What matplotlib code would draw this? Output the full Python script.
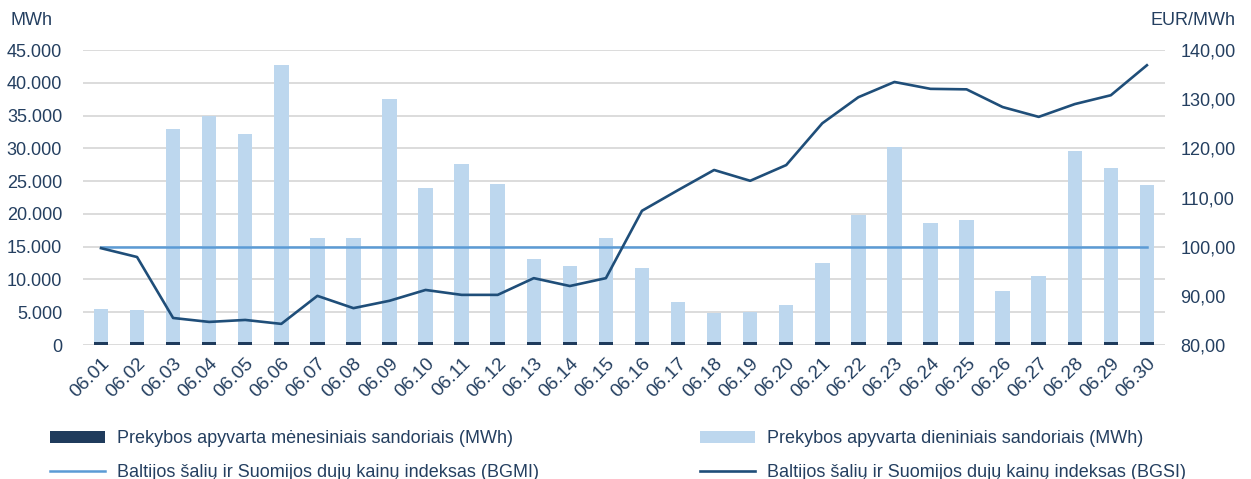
import matplotlib
matplotlib.use('Agg')
import numpy as np
import matplotlib.pyplot as plt
from matplotlib.ticker import FuncFormatter

plt.rcParams['font.family'] = ['Liberation Sans', 'DejaVu Sans']

days = ["06.%02d" % d for d in range(1, 31)]
monthly = [450] * 30
daily = [5500, 5300, 33000, 34900, 32200, 42700, 16300, 16300, 37500, 23900,
         27600, 24600, 13100, 12000, 16300, 11800, 6600, 4900, 5000, 6100,
         12500, 19800, 30200, 18600, 19100, 8200, 10500, 29600, 27000, 24400]
bgmi = [99.9] * 30
bgsi = [99.7, 97.9, 85.5, 84.7, 85.1, 84.3, 90.0, 87.5, 89.0, 91.2,
        90.2, 90.2, 93.6, 92.0, 93.6, 107.3, 111.5, 115.6, 113.4, 116.6,
        125.1, 130.4, 133.5, 132.1, 132.0, 128.4, 126.4, 129.0, 130.8, 136.9]

TXT = "#243F60"
x = np.arange(len(days))

fig = plt.figure(figsize=(12.51, 4.79), dpi=100)
ax = fig.add_axes([0.0663, 0.2797, 0.8649, 0.6159])
ax2 = ax.twinx()

# daily volume sits on top of the small monthly volume
daily_top = [d - m for d, m in zip(daily, monthly)]
b1 = ax.bar(x, monthly, width=0.4, color="#1F3B5C", zorder=3)
b2 = ax.bar(x, daily_top, bottom=monthly, width=0.4, color="#BDD7EE", zorder=3)
l1, = ax2.plot(x, bgmi, color="#5B9BD5", lw=1.8, zorder=4)
l2, = ax2.plot(x, bgsi, color="#1F4E79", lw=1.9, zorder=5)

ax.set_xlim(-0.5, 29.5)
ax.set_ylim(0, 45000)
ax.set_yticks(np.arange(0, 45001, 5000))
ax.yaxis.set_major_formatter(FuncFormatter(lambda v, p: "{:,.0f}".format(v).replace(",", ".")))
ax2.set_ylim(80, 140)
ax2.set_yticks(np.arange(80, 141, 10))
ax2.yaxis.set_major_formatter(FuncFormatter(lambda v, p: ("%.2f" % v).replace(".", ",")))

ax.grid(axis='y', color="#D9D9D9", lw=1.3, zorder=0)
ax.set_axisbelow(True)
for a in (ax, ax2):
    for s in a.spines.values():
        s.set_visible(False)
    a.tick_params(length=0, labelsize=13, labelcolor=TXT)
ax.tick_params(axis='y', pad=15)
ax2.tick_params(axis='y', pad=11)

ax.set_xticks(x)
ax.set_xticklabels(days, rotation=45, ha='right', rotation_mode='anchor')
ax.tick_params(axis='x', pad=7, labelsize=13.8)

fig.text(0.008, 0.958, "MWh", fontsize=13, color=TXT, va='center')
fig.text(0.988, 0.958, "EUR/MWh", fontsize=13, color=TXT, va='center', ha='right')

handles = [b1, l1, b2, l2]
labels = ["Prekybos apyvarta mėnesiniais sandoriais (MWh)",
          "Baltijos šalių ir Suomijos dujų kainų indeksas (BGMI)",
          "Prekybos apyvarta dieniniais sandoriais (MWh)",
          "Baltijos šalių ir Suomijos dujų kainų indeksas (BGSI)"]
fig.legend(handles, labels, ncol=2, loc='upper left', bbox_to_anchor=(0.04, 0.102),
           frameon=False, fontsize=13, labelcolor=TXT, handlelength=3.05,
           handleheight=0.6, handletextpad=0.67, columnspacing=8.9,
           labelspacing=0.95, borderaxespad=0, borderpad=0)

fig.savefig("out.png", dpi=100)
